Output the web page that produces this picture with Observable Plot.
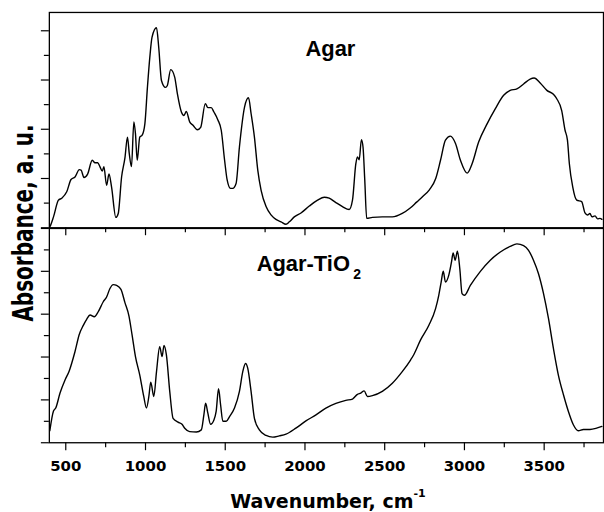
<!DOCTYPE html>
<html><head><meta charset="utf-8">
<script src="https://cdn.jsdelivr.net/npm/d3@7"></script>
<script src="https://cdn.jsdelivr.net/npm/@observablehq/plot@0.6"></script>
<style>
body{margin:0;background:#fff;}
#wrap{position:relative;width:604px;height:512px;overflow:hidden;background:#fff;color:#000;}
#wrap svg{position:absolute;left:0;overflow:visible;background:transparent;}
.ylab{position:absolute;left:23px;top:223px;white-space:nowrap;font:bold 20px "DejaVu Sans";transform:translate(-50%,-50%) rotate(-90deg) scaleY(1.4);}
.xlab{position:absolute;left:328px;top:490px;line-height:19px;white-space:nowrap;font:bold 19px "DejaVu Sans";transform:translateX(-50%);}
.xlab span{font-size:11px;position:relative;top:-11px;}
</style></head><body><div id="wrap"></div>
<script>
// Agar spectrum (wavenumber, absorbance a.u.)
const agarWave = [397,402,423,454,475,506,533,558,585,596,614,637,666,683,700,714,729,739,756,771,787,814,829,850,871,887,898,912,927,937,948,964,979,996,1012,1027,1041,1069,1083,1100,1125,1137,1158,1183,1200,1225,1241,1256,1277,1298,1325,1346,1375,1391,1412,1429,1454,1475,1496,1512,1533,1547,1568,1589,1621,1646,1662,1683,1704,1725,1756,1787,1818,1850,1881,1902,1933,1975,2027,2079,2121,2152,2194,2235,2277,2298,2319,2329,2340,2354,2364,2375,2387,2423,2485,2548,2610,2660,2700,2740,2780,2820,2850,2881,2912,2944,2975,3017,3048,3089,3142,3194,3246,3287,3329,3371,3412,3437,3475,3517,3558,3579,3610,3631,3646,3658,3679,3704,3735,3756,3772,3787,3800,3819,3835,3850,3862];
const agarAbs = [0.0,0.03,0.22,0.56,0.60,0.73,0.98,1.03,1.18,1.17,1.02,1.09,1.37,1.32,1.32,1.24,1.15,1.24,0.86,1.09,0.83,0.21,0.29,1.03,1.42,1.84,1.51,1.24,2.15,1.91,1.37,1.84,1.88,2.11,2.85,3.46,3.87,4.06,3.66,2.99,2.85,2.89,3.21,3.06,2.72,2.35,2.28,2.36,2.15,2.08,1.99,2.04,2.52,2.44,2.44,2.35,2.19,1.98,1.37,0.97,0.80,0.80,0.90,1.64,2.45,2.64,2.32,1.84,1.17,0.76,0.43,0.26,0.17,0.12,0.07,0.12,0.22,0.30,0.44,0.56,0.62,0.60,0.51,0.43,0.37,0.56,1.30,1.44,1.38,1.79,1.64,0.97,0.19,0.21,0.22,0.22,0.29,0.40,0.52,0.64,0.77,1.00,1.37,1.78,1.86,1.71,1.37,1.11,1.30,1.74,2.11,2.42,2.69,2.79,2.82,2.92,3.02,3.04,2.94,2.79,2.71,2.62,2.38,1.98,1.78,1.30,0.83,0.56,0.53,0.30,0.26,0.29,0.22,0.24,0.18,0.19,0.17];

// Agar-TiO2 spectrum
const tio2Wave = [400,423,437,464,496,521,558,585,610,631,652,679,704,735,756,777,798,819,846,871,896,916,937,964,989,1006,1021,1033,1052,1069,1089,1104,1116,1131,1152,1173,1204,1229,1246,1277,1319,1350,1366,1377,1391,1408,1429,1443,1458,1471,1485,1506,1527,1558,1589,1610,1627,1641,1662,1683,1714,1756,1798,1839,1881,1943,2006,2069,2131,2194,2256,2298,2329,2350,2371,2392,2423,2485,2548,2610,2662,2683,2725,2777,2819,2839,2854,2867,2881,2902,2919,2929,2942,2956,2971,2985,3000,3037,3100,3162,3225,3287,3329,3371,3402,3433,3464,3496,3527,3558,3589,3621,3652,3683,3714,3746,3787,3829,3862];
const tio2Abs = [0.28,0.74,0.81,1.16,1.47,1.67,2.13,2.53,2.74,2.88,2.98,2.94,3.06,3.29,3.40,3.60,3.69,3.67,3.58,3.27,2.96,2.51,2.01,1.58,1.08,0.81,1.08,1.41,1.08,1.66,2.24,2.01,2.27,2.05,1.20,0.57,0.48,0.43,0.34,0.26,0.25,0.30,0.65,0.92,0.69,0.43,0.53,0.73,1.26,0.88,0.50,0.50,0.61,0.81,1.20,1.66,1.85,1.74,1.20,0.57,0.30,0.17,0.13,0.16,0.20,0.34,0.51,0.65,0.81,0.92,0.99,1.02,1.13,1.16,1.21,1.08,1.10,1.20,1.39,1.66,1.93,2.06,2.40,2.74,3.13,3.44,3.75,4.00,3.75,3.91,4.22,4.43,4.26,4.47,4.06,3.48,3.44,3.67,4.00,4.26,4.45,4.58,4.64,4.60,4.49,4.26,3.95,3.48,2.90,2.20,1.58,1.12,0.73,0.42,0.28,0.31,0.31,0.34,0.38];

const xMajorTicks = [500,1000,1500,2000,2500,3000,3500];
const xMinorTicks = [750,1250,1750,2250,2750,3250,3750];
const yTopMajor = [0,1,2,3,4];
const yTopMinor = [0.5,1.5,2.5,3.5];
const yBotMajor = [0,1,2,3,4,5];
const yBotMinor = [0.5,1.5,2.5,3.5,4.5];
const xDomain = [397, 3872];
const topTitle = "Agar";
const botTitle = "Agar-TiO";
const botTitleSub = "2";
const yLabel = "Absorbance, a. u.";
const xLabel = "Wavenumber, cm";
const xLabelSup = "-1";

const agar = agarWave.map((w, i) => ({w, a: agarAbs[i]}));
const tio2 = tio2Wave.map((w, i) => ({w, a: tio2Abs[i]}));

const titleFont = {fontSize: 22, fontFamily: "Liberation Sans, Arial, sans-serif", fontWeight: "bold", textAnchor: "start", lineAnchor: "bottom", frameAnchor: "top-left", text: d => d};
const blank = () => "";

function frameMarks(yMajor, yMinor, labelled) {
  return [
    Plot.axisY({ticks: yMajor, tickSize: 8, tickFormat: blank, label: null, strokeWidth: 1.2}),
    Plot.axisY({ticks: yMinor, tickSize: 5, tickFormat: blank, label: null, strokeWidth: 1.2}),
    Plot.axisX({ticks: xMajorTicks, tickSize: 8, tickPadding: 10, label: null, strokeWidth: 1.2,
      tickFormat: labelled ? d => String(d) : blank,
      fontSize: 15, fontFamily: "DejaVu Sans", fontWeight: "bold"}),
    Plot.axisX({ticks: xMinorTicks, tickSize: 5, tickFormat: blank, label: null, strokeWidth: 1.2}),
    Plot.frame({strokeWidth: 1.3})
  ];
}

const topPlot = Plot.plot({
  width: 606, height: 238,
  marginLeft: 49, marginRight: 1, marginTop: 12, marginBottom: 10,
  x: {domain: xDomain}, y: {domain: [0, 4.372]},
  style: {background: "transparent", overflow: "visible"},
  marks: [
    Plot.line(agar, {x: "w", y: "a", stroke: "black", strokeWidth: 1.4, curve: "monotone-x"}),
    ...frameMarks(yTopMajor, yTopMinor, false),
    Plot.text([topTitle], {...titleFont, dx: 257, dy: 44})
  ]
});
topPlot.style.top = "0px";

const botPlot = Plot.plot({
  width: 606, height: 294,
  marginLeft: 49, marginRight: 1, marginTop: 10, marginBottom: 69,
  x: {domain: xDomain}, y: {domain: [0, 5]},
  style: {background: "transparent", overflow: "visible"},
  marks: [
    Plot.line(tio2, {x: "w", y: "a", stroke: "black", strokeWidth: 1.4, curve: "monotone-x"}),
    ...frameMarks(yBotMajor, yBotMinor, true),
    Plot.text([botTitle], {...titleFont, dx: 208, dy: 43}),
    Plot.text([botTitleSub], {...titleFont, fontSize: 14, dx: 305, dy: 51})
  ]
});
botPlot.style.top = "218px";

const wrap = document.getElementById("wrap");
wrap.appendChild(botPlot);
wrap.appendChild(topPlot);

const yl = document.createElement("div");
yl.className = "ylab"; yl.textContent = yLabel;
wrap.appendChild(yl);
const xl = document.createElement("div");
xl.className = "xlab"; xl.textContent = xLabel;
const sup = document.createElement("span"); sup.textContent = xLabelSup;
xl.appendChild(sup);
wrap.appendChild(xl);
</script></body></html>
